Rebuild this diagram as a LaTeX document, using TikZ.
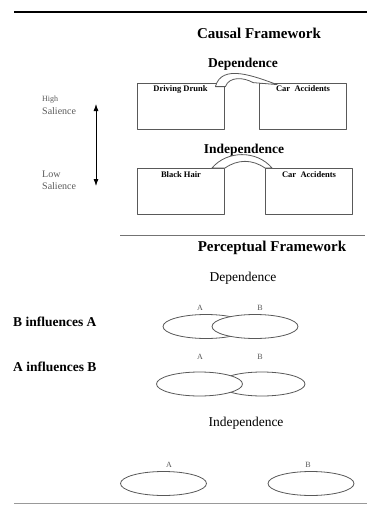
\documentclass[tikz,border=0pt]{standalone}
\usepackage{fontspec}
\setmainfont{Liberation Serif}
\usepackage{tikz}
\usetikzlibrary{arrows,arrows.meta,shapes.geometric,positioning}
\definecolor{boxgray}{gray}{0.35}

\begin{document}
\begin{tikzpicture}[x=1pt,y=1pt,>={Latex[length=7pt,width=5pt]},line join=round]
    \tikzstyle{frametitle}=[font=\fontsize{15}{18}\selectfont\bfseries,inner sep=0pt]
    \tikzstyle{parthead}=[font=\fontsize{13.5}{16}\selectfont\bfseries,inner sep=0pt]
    \tikzstyle{parttext}=[font=\fontsize{13.5}{16}\selectfont,inner sep=0pt]
    \tikzstyle{causebox}=[draw=boxgray,line width=0.8pt,minimum width=87pt,minimum height=46pt,inner sep=0pt]
    \tikzstyle{causetext}=[font=\fontsize{8.5}{10}\selectfont\bfseries,inner sep=0pt]
    \tikzstyle{bridge}=[draw=boxgray,fill=white,line width=0.8pt]
    \tikzstyle{blob}=[ellipse,draw=boxgray,fill=white,line width=0.8pt,minimum width=86pt,minimum height=24pt,inner sep=0pt]
    \tikzstyle{blobname}=[font=\fontsize{8}{9}\selectfont,text=boxgray,inner sep=0pt]
    \tikzstyle{salience}=[font=\fontsize{10}{12}\selectfont,text=boxgray,anchor=west,inner sep=0pt]
    \tikzstyle{divider}=[draw=black!55,line width=0.8pt]
    \useasboundingbox (0,0) rectangle (367,-506);

    % causal framework
    \coordinate (tl) at (14,-12);
    \coordinate (tr) at (367,-12);
    \draw[line width=1.4pt] (tl) -- (tr);
    \node[frametitle] (cf)  at (259,-33)    {Causal Framework};
    \node[parthead]   (dep) at (243,-64)    {Dependence};
    \node[causebox]   (dd)  at (180.5,-106) {};
    \node[causebox]   (ca)  at (303,-106)   {};
    \node[causetext,below=3pt of dd.north] (ddt) {Driving Drunk};
    \node[causetext,below=3pt of ca.north] (cat) {Car\ \ Accidents};
    \path[bridge] ([shift={(-9,-4)}]dd.north east) to[out=75,in=160] ([shift={(18,-2)}]ca.north west)
        -- ([shift={(-6,0)}]ca.north west) to[out=150,in=70] ([shift={(1,-4)}]dd.north east) -- cycle;

    \node[parthead]   (ind) at (244,-150)   {Independence};
    \node[causebox]   (bh)  at (181,-191.5) {};
    \node[causebox]   (cb)  at (309,-191.5) {};
    \node[causetext,below=3pt of bh.north] (bht) {Black Hair};
    \node[causetext,below=3pt of cb.north] (cbt) {Car\ \ Accidents};
    \path[bridge] ([xshift=-13pt]bh.north east) to[out=50,in=130] ([xshift=7pt]cb.north west)
        -- (cb.north west) to[out=145,in=35] (bh.north east) -- cycle;

    % salience scale
    \node[salience,font=\fontsize{8}{10}\selectfont] (hi1) at (42,-100) {High};
    \node[salience] (hi2) at (42,-111) {Salience};
    \node[salience] (lo1) at (42,-174) {Low};
    \node[salience] (lo2) at (42,-186) {Salience};
    \coordinate (hi) at (96,-104);
    \coordinate (lo) at (96,-186);
    \draw[<->,line width=0.8pt] (hi) -- (lo);

    % perceptual framework
    \coordinate (ml) at (120,-235);
    \coordinate (mr) at (365,-235);
    \path[divider] (ml) -- (mr);
    \node[frametitle] (pf)  at (272,-248) {Perceptual Framework};
    \node[parttext]   (pd)  at (243,-278) {Dependence};

    \node[parthead,anchor=west] (bia) at (13,-322) {B influences A};
    \node[blob]     (a1) at (206,-326.5) {};
    \node[blob]     (b1) at (255,-326.5) {};
    \node[blobname] (na1) at (200,-308) {A};
    \node[blobname] (nb1) at (260,-308) {B};

    \node[parthead,anchor=west] (aib) at (13,-367) {A influences B};
    \node[blob]     (b2) at (262,-384) {};
    \node[blob]     (a2) at (199.5,-384) {};
    \node[blobname] (na2) at (200,-357) {A};
    \node[blobname] (nb2) at (260,-357) {B};

    \node[parttext] (pi)  at (246,-423)   {Independence};
    \node[blob]     (a3)  at (163.5,-483.5) {};
    \node[blob]     (b3)  at (311,-483.5)   {};
    \node[blobname] (na3) at (169,-465) {A};
    \node[blobname] (nb3) at (308,-465) {B};

    \coordinate (bl) at (14,-503);
    \coordinate (br) at (367,-503);
    \path[divider,draw=black!40] (bl) -- (br);
\end{tikzpicture}
\end{document}
